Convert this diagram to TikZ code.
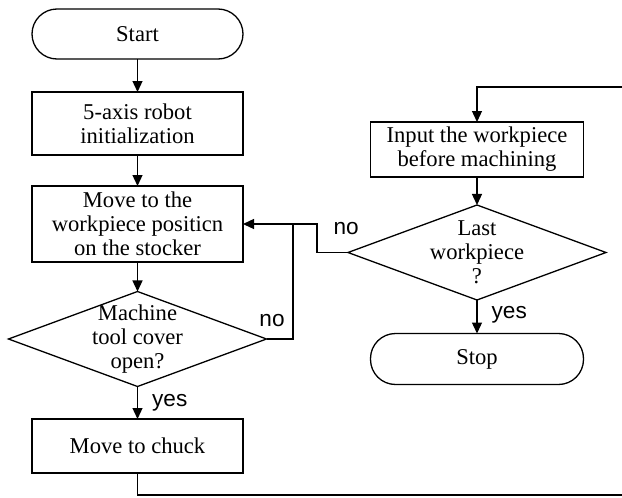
\documentclass[tikz,border=0pt]{standalone}
\usepackage{fontspec}
\setmainfont{Liberation Serif}
\setsansfont{Liberation Sans}
\usetikzlibrary{shapes.geometric, arrows.meta, positioning}
\tikzset{
    every node/.style={font=\fontsize{11.3pt}{12pt}\selectfont},
    box/.style={draw, line width=0.65pt, align=center, inner sep=1pt, outer sep=0pt, minimum width=105.5pt},
    term/.style={box, rounded corners=12.5pt, minimum height=25pt},
    decision/.style={draw, diamond, line width=0.65pt, minimum width=129pt, minimum height=47.5pt, inner sep=0pt, outer sep=0pt},
    arrow/.style={-{Triangle[length=5.5pt, width=5pt]}, line width=0.65pt},
    line/.style={line width=0.65pt},
    answer/.style={font=\fontsize{11.3pt}{12pt}\sffamily\selectfont, inner sep=0pt, anchor=base}
}

\begin{document}
\begin{tikzpicture}
    \useasboundingbox (0,0) rectangle (311pt,-249pt);
    \clip (0,0) rectangle (311pt,-249pt);

    % robot side
    \node [term] (start) at (68.75pt,-17pt) {Start};
    \node [box, minimum height=31.5pt, below=16.5pt of start] (init) {5-axis robot\\initialization};
    \node [box, minimum height=38pt, below=15.5pt of init] (stocker) {Move to the\\workpiece positicn\\on the stocker};
    \node [decision, below=14.75pt of stocker, label={[align=center]center:Machine\\tool cover\\open?}] (cover) {};
    \node [box, minimum height=27pt, below=16.25pt of cover] (chuck) {Move to chuck};

    % machine side
    \node [box, minimum width=106.5pt, minimum height=27.5pt] (input) at (238.5pt,-74.75pt) {Input the workpiece\\before machining};
    \node [decision, below=14pt of input, label={[align=center]center:Last\\workpiece\\?}] (last) {};
    \node [term, minimum width=106.5pt, minimum height=25.5pt, below=16.75pt of last] (stop) {Stop};

    % bends of the return lines
    \coordinate [right=25pt of stocker.east] (jl);
    \coordinate [right=37pt of stocker.east] (jr);
    \coordinate [below=11pt of chuck.south] (low);
    \coordinate [above=17.5pt of input.north] (high);
    \coordinate [right=81.5pt of high] (rim);

    \draw [arrow] (start) -- (init);
    \draw [arrow] (init) -- (stocker);
    \draw [arrow] (stocker) -- (cover);
    \draw [arrow] (cover) -- node[answer, anchor=base west, xshift=7pt, yshift=-2pt] {yes} (chuck);
    \draw [line] (cover.east) -- node[answer, pos=0.21, yshift=6.5pt] {no} (cover.east -| jl) -- (jl);
    \draw [arrow] (last.west) -- node[answer, pos=0.06, yshift=9pt] {no} (last.west -| jr) |- (stocker.east);
    \draw [arrow] (input) -- (last);
    \draw [arrow] (last) -- node[answer, anchor=base west, xshift=7pt, yshift=-1pt] {yes} (stop);
    \draw [arrow] (chuck.south) -- (low) -| (rim) -| (input.north);
\end{tikzpicture}
\end{document}
